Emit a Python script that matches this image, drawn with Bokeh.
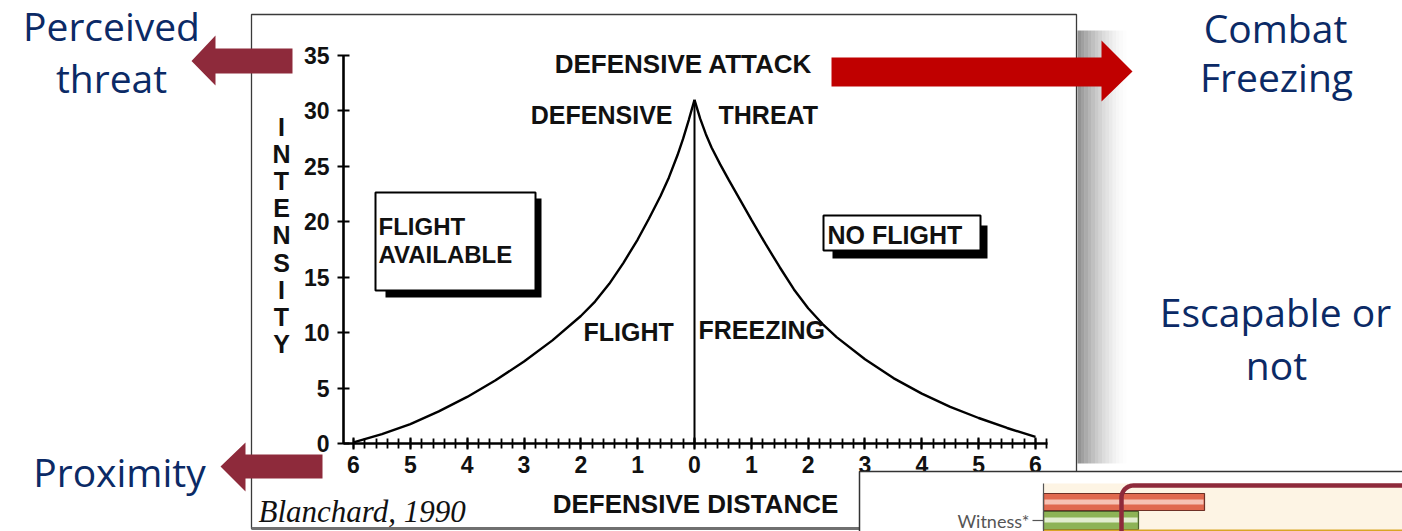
import numpy as np
from bokeh.plotting import figure
from bokeh.models import Range1d, FixedTicker
from bokeh.core.properties import value
from bokeh.embed import file_html
from bokeh.resources import INLINE

# ---------------- data ----------------
distance_ticks = [-6, -5, -4, -3, -2, -1, 0, 1, 2, 3, 4, 5, 6]
distance_labels = ["6", "5", "4", "3", "2", "1", "0", "1", "2", "3", "4", "5", "6"]
intensity_ticks = [0, 5, 10, 15, 20, 25, 30, 35]

flight_x = [-6.0, -5.5, -5.0, -4.5, -4.0, -3.5, -3.0, -2.5, -2.0, -1.75, -1.5, -1.25, -1.0, -0.8,
            -0.6, -0.45, -0.3, -0.2, -0.1, 0.0]
flight_y = [0.1, 0.85, 1.75, 2.9, 4.2, 5.7, 7.4, 9.3, 11.5, 12.8, 14.4, 16.3, 18.4, 20.3,
            22.3, 24.0, 26.0, 27.5, 29.2, 31.0]
freeze_x = [0.0, 0.1, 0.2, 0.3, 0.45, 0.6, 0.8, 1.0, 1.25, 1.5, 1.75, 2.0, 2.25, 2.5, 3.0, 3.5,
            4.0, 4.5, 5.0, 5.5, 6.0]
freeze_y = [31.0, 29.3, 27.9, 26.7, 25.2, 23.8, 22.0, 20.2, 18.0, 15.9, 13.9, 12.2, 10.8, 9.6,
            7.6, 5.9, 4.5, 3.3, 2.3, 1.4, 0.6]
peak_intensity = 31.0

inset_labels = ["Witness*"]
inset_red = [161]     # bar lengths in inset (px)
inset_green = [95]

# ---------------- page geometry ----------------
W, H = 1402, 531
PX0, SX, PY0, SY = 694.0, 56.83, 443.0, 11.086


def dx(px):
    return (px - PX0) / SX


def dy(py):
    return (PY0 - py) / SY


def DX(lst):
    return [dx(v) for v in lst]


def DY(lst):
    return [dy(v) for v in lst]


p = figure(width=W, height=H,
           x_range=Range1d(dx(0), dx(W)), y_range=Range1d(dy(H), dy(0)),
           output_backend="svg", toolbar_location=None, tools="", min_border=0)
p.outline_line_color = None
p.grid.visible = False
p.background_fill_color = "white"
p.border_fill_color = "white"

NAVY = "#0b2a66"
DARKRED = "#8e2a3b"
RED = "#c00000"
CH_FONT = value("Liberation Sans")

# ----- chart picture frame + shadow -----
for i in range(14):
    a = 0.42 * (1 - i / 14.0) ** 1.6
    p.quad(left=dx(1077 + i * 3.5), right=dx(1077 + (i + 1) * 3.5),
           top=dy(30), bottom=dy(463), fill_color="black", fill_alpha=a, line_color=None)
p.quad(left=dx(251), right=dx(1076), top=dy(14), bottom=dy(528),
       fill_color="white", line_color="#3a3a3a", line_width=1.3)
p.segment(x0=dx(251), y0=dy(528), x1=dx(1076), y1=dy(528), line_color="#707070", line_width=3)

# ----- curves -----
p.line(flight_x, flight_y, line_color="black", line_width=2.4)
p.line(freeze_x, freeze_y, line_color="black", line_width=2.4)
p.segment(x0=[0], y0=[0], x1=[0], y1=[peak_intensity], line_color="black", line_width=2)

# ----- axes -----
xa = p.xaxis[0]
xa.fixed_location = 0
xa.bounds = (dx(343), dx(1047))
xa.ticker = FixedTicker(ticks=distance_ticks,
                        minor_ticks=[round(v, 2) for v in np.arange(-6.0, 6.21, 0.2)])
xa.major_label_overrides = {t: l for t, l in zip(distance_ticks, distance_labels)}
ya = p.yaxis[0]
ya.fixed_location = dx(343)
ya.bounds = (0, 35)
ya.ticker = FixedTicker(ticks=intensity_ticks, minor_ticks=[])
for ax in (xa, ya):
    ax.axis_line_color = "black"
    ax.axis_line_width = 2.6
    ax.major_tick_line_color = "black"
    ax.major_tick_line_width = 2
    ax.major_tick_in = 6
    ax.major_tick_out = 6
    ax.minor_tick_line_color = "black"
    ax.minor_tick_line_width = 1.8
    ax.minor_tick_in = 5
    ax.minor_tick_out = 5
    ax.major_label_text_font = "Liberation Sans"
    ax.major_label_text_font_style = "bold"
    ax.major_label_text_font_size = "23px"
    ax.major_label_text_color = "#111111"
xa.major_label_standoff = 6
ya.major_label_standoff = 8

# ----- chart texts (y = vertical centre of capitals) -----
def ctext(x, y, t, align="left", size="24px", font=CH_FONT, style="bold", color="#111111", level="glyph"):
    p.text(x=[dx(x)], y=[dy(y)], text=[t], text_font=font, text_font_size=size,
           text_font_style=style, text_color=color, text_align=align,
           text_baseline="middle", level=level)


ctext(683, 63, "DEFENSIVE ATTACK", "center", "26px")
ctext(672, 114, "DEFENSIVE", "right", "25px")
ctext(718, 114, "THREAT", "left", "25px")
ctext(583, 331, "FLIGHT", "left", "25px")
ctext(698, 329, "FREEZING", "left", "25px")
ctext(695, 503, "DEFENSIVE DISTANCE", "center", "26px")

letters = list("INTENSITY")
p.text(x=[dx(281)] * len(letters), y=[dy(126 + 27.2 * i) for i in range(len(letters))],
       text=letters, text_font=CH_FONT, text_font_size="25px", text_font_style="bold",
       text_color="#111111", text_align="center", text_baseline="middle")

# boxes with shadow
p.quad(left=dx(385), right=dx(541), top=dy(198), bottom=dy(297), fill_color="black", line_color=None)
p.quad(left=dx(375), right=dx(535), top=dy(192), bottom=dy(290), fill_color="white",
       line_color="black", line_width=2)
ctext(378, 226, "FLIGHT", "left")
ctext(378, 254, "AVAILABLE", "left")
p.quad(left=dx(832), right=dx(987), top=dy(225), bottom=dy(258), fill_color="black", line_color=None)
p.quad(left=dx(823), right=dx(980), top=dy(215), bottom=dy(250), fill_color="white",
       line_color="black", line_width=2)
ctext(827, 234, "NO FLIGHT", "left", "25px")

ctext(258, 511, "Blanchard, 1990", "left", "31px", value("Liberation Serif"), "italic", "#111111")

# ----- slide arrows -----
def arrow(pts, color):
    p.patch(x=[dx(a) for a, b in pts], y=[dy(b) for a, b in pts], fill_color=color, line_color=None)


arrow([(292, 48), (215, 48), (215, 35), (191, 60.5), (215, 85), (215, 73), (292, 73)], DARKRED)
arrow([(322, 454), (245, 454), (245, 442), (220, 466), (245, 491), (245, 478), (322, 478)], DARKRED)
arrow([(831, 57), (1101, 57), (1101, 40), (1132, 71), (1101, 101), (1101, 86), (831, 86)], RED)

# ----- slide texts -----
SL_FONT = value("Open Sans")
def stext(x, y, t):
    p.text(x=[dx(x)], y=[dy(y)], text=[t], text_font=SL_FONT, text_font_size="39px",
           text_color=NAVY, text_align="center", text_baseline="middle")


stext(111, 25, "Perceived")
stext(111, 77, "threat")
stext(1275, 27, "Combat")
stext(1276, 76, "Freezing")
stext(1275, 311, "Escapable or")
stext(1276, 364, "not")
stext(119, 471, "Proximity")

# ----- inset (bottom right) -----
L = "overlay"
p.quad(left=dx(859), right=dx(1410), top=dy(471), bottom=dy(545), fill_color="white",
       line_color="#333333", line_width=1.5, level=L)
p.quad(left=dx(1043), right=dx(1410), top=dy(483), bottom=dy(545), fill_color="#fdf4e4",
       line_color=None, level=L)
x0 = 1043
p.quad(left=[dx(x0)], right=[dx(x0 + v) for v in inset_red], top=dy(493), bottom=dy(510),
       fill_color="#e0694f", line_color="#6e3026", line_width=1.2, level=L)
p.quad(left=[dx(x0 + 1)], right=[dx(x0 + v - 1) for v in inset_red], top=dy(499), bottom=dy(504),
       fill_color="#f6c2b4", line_color=None, level=L)
p.quad(left=[dx(x0)], right=[dx(x0 + v) for v in inset_green], top=dy(511), bottom=dy(529),
       fill_color="#8db356", line_color="#4f6330", line_width=1.2, level=L)
p.quad(left=[dx(x0 + 1)], right=[dx(x0 + v - 1) for v in inset_green], top=dy(517), bottom=dy(522),
       fill_color="#e2edd0", line_color=None, level=L)
p.segment(x0=dx(x0), y0=dy(530), x1=dx(1410), y1=dy(530), line_color="#d9a526", line_width=2, level=L)
p.segment(x0=dx(x0), y0=dy(483), x1=dx(x0), y1=dy(545), line_color="#555555", line_width=1.2, level=L)
p.segment(x0=dx(1032), y0=dy(520), x1=dx(x0), y1=dy(520), line_color="#555555", line_width=1.2, level=L)
p.text(x=[dx(1029)], y=[dy(520)], text=inset_labels, text_font=value("Lato"), text_font_size="18px",
       text_color="#555555", text_align="right", text_baseline="middle", level=L)
ang = np.linspace(np.pi, np.pi / 2, 12)
r = 12
path_x = [1121, 1121] + list(1121 + r + r * np.cos(ang)) + [1410]
path_y = [545, 485 + r] + list(485 + r - r * np.sin(ang)) + [485]
p.line(x=DX(path_x), y=DY(path_y), line_color=DARKRED, line_width=4.5, level=L)

open("out.html", "w").write(file_html(p, INLINE))
